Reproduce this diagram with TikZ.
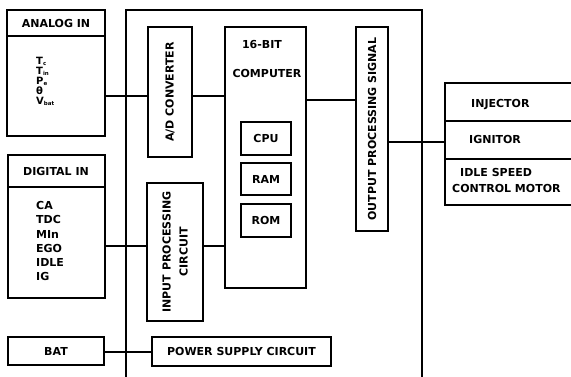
\documentclass[tikz,border=0pt]{standalone}
\usepackage{fontspec}
\setmainfont{DejaVu Sans}
\newcommand{\lowsub}[1]{\raisebox{-0.12em}{\fontsize{5.5}{6}\selectfont #1}}
\begin{document}
\begin{tikzpicture}[x=1pt,y=-1pt,
  box/.style={draw,line width=1.1pt,inner sep=0pt},
  lbl/.style={font=\bfseries\fontsize{11}{13}\selectfont,inner sep=0pt},
  item/.style={lbl,anchor=west},
  sitem/.style={item,font=\bfseries\fontsize{10}{12}\selectfont},
  wire/.style={line width=1.1pt}]
\useasboundingbox (0,0) rectangle (571,376);
% row coordinates
\coordinate (rA) at (0,96);
\coordinate (rB) at (0,100);
\coordinate (rC) at (0,142);
\coordinate (rD) at (0,246);
\coordinate (rE) at (0,352);
\coordinate (hA) at (0,36);
\coordinate (hD) at (0,187);
\coordinate (hX1) at (0,121);
\coordinate (hX2) at (0,159);
% main enclosure (open at the bottom)
\coordinate (mbl) at (126,380);
\coordinate (mtl) at (126,10);
\coordinate (mtr) at (422,10);
\coordinate (mbr) at (422,380);
\draw[wire] (mbl) -- (mtl) -- (mtr) -- (mbr);

% analog in
\node[box,minimum width=98pt,minimum height=126pt] (ana) at (56,73) {};
\draw[wire] (ana.west |- hA) -- (ana.east |- hA);
\node[lbl] (anah) at (56,23) {ANALOG IN};
\node[sitem] (a1) at (36,61) {T\lowsub{c}};
\node[sitem] (a2) at (36,71) {T\lowsub{in}};
\node[sitem] (a3) at (36,81) {P\lowsub{e}};
\node[sitem] (a4) at (36,91) {θ};
\node[sitem] (a5) at (36,101) {V\lowsub{bat}};

% digital in
\node[box,minimum width=97pt,minimum height=143pt] (dig) at (56.5,226.5) {};
\draw[wire] (dig.west |- hD) -- (dig.east |- hD);
\node[lbl] (digh) at (56,171.5) {DIGITAL IN};
\node[item] (d1) at (36,205) {CA};
\node[item] (d2) at (36,219.5) {TDC};
\node[item] (d3) at (36,234) {MIn};
\node[item] (d4) at (36,248) {EGO};
\node[item] (d5) at (36,262.5) {IDLE};
\node[item] (d6) at (36,276.5) {IG};

% BAT
\node[box,lbl,minimum width=96pt,minimum height=28pt] (bat) at (56,351) {BAT};

% inside blocks
\node[box,minimum width=44pt,minimum height=130pt] (ad) at (170,92) {};
\node[lbl,rotate=90] (adt) at (ad.center) {A/D CONVERTER};

\node[box,minimum width=56pt,minimum height=138pt] (inp) at (175,252) {};
\node[lbl,rotate=90,align=center,font=\bfseries\fontsize{11}{17}\selectfont] (inpt) at (inp.center) {INPUT PROCESSING\\CIRCUIT};

\node[box,minimum width=81pt,minimum height=261pt] (comp) at (265.5,157.5) {};
\node[lbl] (c16) at (262,44) {16-BIT};
\node[lbl] (cct) at (267,73) {COMPUTER};
\node[box,lbl,minimum width=50pt,minimum height=33pt] (cpu) at (266,138.5) {CPU};
\node[box,lbl,minimum width=50pt,minimum height=32pt] (ram) at (266,179) {RAM};
\node[box,lbl,minimum width=50pt,minimum height=33pt] (rom) at (266,220.5) {ROM};

\node[box,minimum width=32pt,minimum height=204pt] (out) at (372,129) {};
\node[lbl,rotate=90] (outt) at (out.center) {OUTPUT PROCESSING SIGNAL};

\node[box,lbl,minimum width=179pt,minimum height=29pt] (pwr) at (241.5,351.5) {POWER SUPPLY CIRCUIT};

% actuators
\node[box,minimum width=132pt,minimum height=122pt] (act) at (511,144) {};
\draw[wire] (act.west |- hX1) -- (act.east |- hX1);
\draw[wire] (act.west |- hX2) -- (act.east |- hX2);
\node[item] (x1) at (471,105) {INJECTOR};
\node[item] (x2) at (469,139) {IGNITOR};
\node[item] (x3) at (460,172.5) {IDLE SPEED};
\node[item] (x4) at (452,188.5) {CONTROL MOTOR};

% connectors
\draw[wire] (ana.east |- rA) -- (ad.west |- rA);
\draw[wire] (ad.east |- rA) -- (comp.west |- rA);
\draw[wire] (comp.east |- rB) -- (out.west |- rB);
\draw[wire] (out.east |- rC) -- (act.west |- rC);
\draw[wire] (dig.east |- rD) -- (inp.west |- rD);
\draw[wire] (inp.east |- rD) -- (comp.west |- rD);
\draw[wire] (bat.east |- rE) -- (pwr.west |- rE);
\end{tikzpicture}
\end{document}
